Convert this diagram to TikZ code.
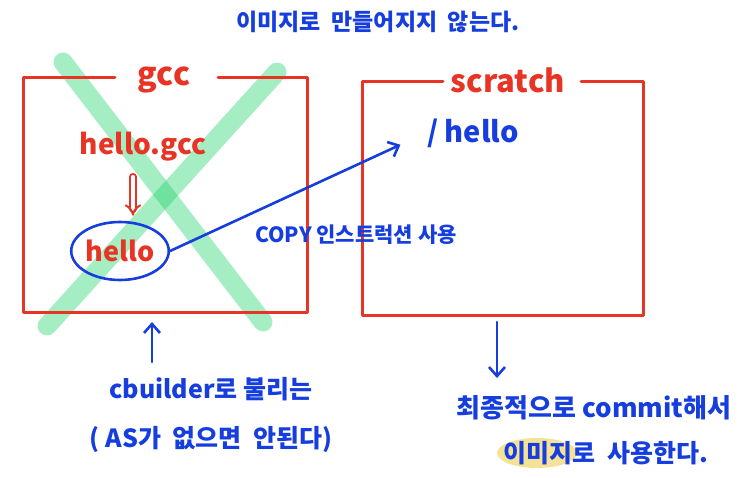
\documentclass[tikz,border=0pt]{standalone}
\usepackage{fontspec}
\setmainfont{Noto Sans CJK KR}
\usetikzlibrary{arrows.meta, shapes.geometric}
\definecolor{penred}{RGB}{232,52,36}
\definecolor{penblue}{RGB}{22,62,222}
\definecolor{pengreen}{RGB}{24,209,101}
\definecolor{penyellow}{RGB}{246,226,150}

\begin{document}
\begin{tikzpicture}[x=1pt, y=-1pt, line cap=round, line join=round,
    every node/.style={inner sep=1pt},
    hand/.style={font=\fontsize{#1}{#1}\selectfont\bfseries},
    redpen/.style={text=penred},
    bluepen/.style={text=penblue},
    pentip/.style={-{Straight Barb[length=9pt, width=16pt]}, penblue, line width=2.6pt}]

    \useasboundingbox (0,0) rectangle (750,478);

    % Title
    \node[bluepen, hand=23] (title) at (378,22) {이미지로 \ 만들어지지 \ 않는다.};

    % Crossed out green X
    \draw[pengreen, opacity=0.39, line width=19pt] (63,62) -- (263,322);
    \draw[pengreen, opacity=0.39, line width=19pt] (277,72) -- (47,326);

    % --- gcc stage ---
    \draw[penred, line width=3pt] (115,78) -- (23,78) -- (23,313) -- (307,313) -- (307,78) -- (218,78);
    \node[redpen, hand=32] (gcc) at (164,80) {gcc};
    \node[redpen, hand=28] (src) at (143,147) {hello.gcc};
    \node[redpen, hand=27, ellipse, draw=penblue, line width=2.6pt,
          minimum width=85pt, minimum height=58pt, inner sep=0pt] (bin) at (120,251) {hello};
    \draw[penred, line width=2pt, double distance=3.5pt, -{Implies}, shorten <=14pt, shorten >=5pt]
        ([xshift=-10pt]src.south) -- ([xshift=13pt]bin.north);

    % --- scratch stage ---
    \draw[penred, line width=3pt] (443,82) -- (362,82) -- (362,316) -- (643,316) -- (643,82) -- (581,82);
    \node[redpen, hand=31] (scratch) at (508,80) {scratch};
    \node[bluepen, hand=29] (dst) at (473,133) {/ hello};

    % copy
    \draw[pentip, shorten >=28pt] (bin.east) -- (dst.west);
    \node[bluepen, hand=21] (copy) at (356,235) {COPY 인스트럭션 사용};

    % notes below
    \coordinate (gccbot) at (152,322);
    \coordinate (gcctail) at (152,362);
    \draw[pentip] (gcctail) -- (gccbot);
    \node[bluepen, hand=25] (builder) at (211,389) {cbuilder로 불리는};
    \node[bluepen, hand=25] (as) at (211,439) {( AS가 \ 없으면 \ 안된다)};

    \coordinate (scrbot) at (497,322);
    \coordinate (scrtip) at (497,378);
    \draw[pentip] (scrbot) -- (scrtip);
    \fill[penyellow] (537,453) ellipse (40 and 15);
    \node[bluepen, hand=26] (commit) at (594,408) {최종적으로 commit해서};
    \node[bluepen, hand=25] (use) at (606,453) {이미지로 \ 사용한다.};

\end{tikzpicture}
\end{document}
